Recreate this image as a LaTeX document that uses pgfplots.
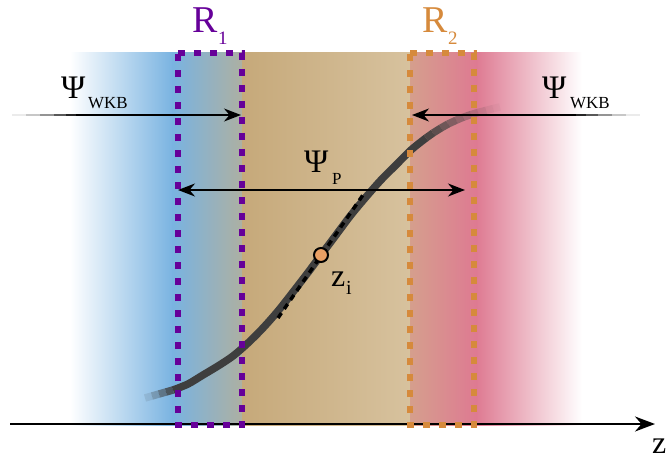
\documentclass[border=0pt]{standalone}
\usepackage{fontspec}
\setmainfont{Liberation Serif}
\usepackage{pgfplots}
\pgfplotsset{compat=1.18}
\usetikzlibrary{arrows.meta}
\definecolor{blueC}{HTML}{79B3E1}
\definecolor{rOneEnd}{HTML}{ADB0A2}
\definecolor{tanL}{HTML}{C6A97A}
\definecolor{tanR}{HTML}{D7C29E}
\definecolor{rTwoL}{HTML}{D59F8D}
\definecolor{pinkC}{HTML}{DE7A92}
\definecolor{purpleC}{HTML}{660099}
\definecolor{orangeC}{HTML}{D68A3C}
\definecolor{circC}{HTML}{E9A064}
\definecolor{curveC}{HTML}{3E3E3E}
\begin{document}
\begin{tikzpicture}
\begin{axis}[width=667bp,height=459bp,scale only axis,
  xmin=0,xmax=667,ymin=0,ymax=459,y dir=reverse,
  axis lines=none,clip=false]
\addplot[draw=none] coordinates {(0,0) (667,459)};
% background bands
\addplot[draw=none, left color=white, right color=blueC] coordinates {(70,53)(173,53)(173,425)(70,425)};
\addplot[draw=none, left color=blueC, right color=rOneEnd] coordinates {(172,53)(242.5,53)(242.5,425)(172,425)};
\addplot[draw=none, left color=tanL, right color=tanR] coordinates {(242,53)(410.5,53)(410.5,425)(242,425)};
\addplot[draw=none, left color=rTwoL, right color=pinkC] coordinates {(410,53)(476.5,53)(476.5,425)(410,425)};
\addplot[draw=none, left color=pinkC, right color=white] coordinates {(476,53)(582,53)(582,425)(476,425)};
% z axis
\addplot[black, line width=2bp, -{Stealth[length=20bp,width=15bp]}] coordinates {(10,424)(655,424)};
% curve: faded left end
\addplot[curveC, opacity=0.12, line width=7.5bp] coordinates {(145,398)(152,396)};
\addplot[curveC, opacity=0.3, line width=7.5bp] coordinates {(152,396)(159,394)};
\addplot[curveC, opacity=0.55, line width=7.5bp] coordinates {(159,394)(166,392)};
\addplot[curveC, opacity=0.8, line width=7.5bp] coordinates {(166,392)(173,390)};
% main curve
\addplot[curveC, line width=7.5bp, smooth] coordinates {(173,390)(188,384)(203,375)(218,366)(233,356)(248,343)(263,328)(278,311)(293,292)(308,272.5)(321,255)(336,235)(351,215)(366,197)(381,180)(396,165)(411,150)(426,138)};
% faded right end
\addplot[curveC, opacity=0.9, line width=7.5bp] coordinates {(426,138)(433,133)};
\addplot[curveC, opacity=0.8, line width=7.5bp] coordinates {(433,133)(441,128)};
\addplot[curveC, opacity=0.68, line width=7.5bp] coordinates {(441,128)(448,124)};
\addplot[curveC, opacity=0.56, line width=7.5bp] coordinates {(448,124)(456,120.3)};
\addplot[curveC, opacity=0.45, line width=7.5bp] coordinates {(456,120.3)(463,117.3)};
\addplot[curveC, opacity=0.34, line width=7.5bp] coordinates {(463,117.3)(471,114.6)};
\addplot[curveC, opacity=0.24, line width=7.5bp] coordinates {(471,114.6)(478,112.5)};
\addplot[curveC, opacity=0.15, line width=7.5bp] coordinates {(478,112.5)(486,110.4)};
\addplot[curveC, opacity=0.08, line width=7.5bp] coordinates {(486,110.4)(493,108.6)};
\addplot[curveC, opacity=0.04, line width=7.5bp] coordinates {(493,108.6)(500,107)};
% tangent
\addplot[black, line width=3.5bp, dash pattern=on 6bp off 5bp] coordinates {(278,318)(365,192)};
% dashed rectangles
\addplot[draw=purpleC, line width=6bp, dash pattern=on 7bp off 9bp] coordinates {(178,53)(242,53)(242,425)(178,425)(178,53)};
\addplot[draw=orangeC, line width=6bp, dash pattern=on 7bp off 9bp] coordinates {(410,53)(474,53)(474,425)(410,425)(410,53)};
% Psi_P arrow
\addplot[black, line width=1.5bp, {Stealth[length=17bp,width=13bp]}-{Stealth[length=17bp,width=13bp]}] coordinates {(178,190)(465,190)};
% Psi_WKB left arrow
\addplot[black!8, line width=1.5bp] coordinates {(12,115)(26,115)};
\addplot[black!22, line width=1.5bp] coordinates {(26,115)(40,115)};
\addplot[black!42, line width=1.5bp] coordinates {(40,115)(54,115)};
\addplot[black!65, line width=1.5bp] coordinates {(54,115)(66,115)};
\addplot[black!85, line width=1.5bp] coordinates {(66,115)(76,115)};
\addplot[black, line width=1.5bp, -{Stealth[length=17bp,width=13bp]}] coordinates {(76,115)(241,115)};
% Psi_WKB right arrow
\addplot[black!8, line width=1.5bp] coordinates {(640,115)(626,115)};
\addplot[black!22, line width=1.5bp] coordinates {(626,115)(612,115)};
\addplot[black!42, line width=1.5bp] coordinates {(612,115)(598,115)};
\addplot[black!65, line width=1.5bp] coordinates {(598,115)(586,115)};
\addplot[black!85, line width=1.5bp] coordinates {(586,115)(576,115)};
\addplot[black, line width=1.5bp, -{Stealth[length=17bp,width=13bp]}] coordinates {(576,115)(412,115)};
% point z_i
\addplot[only marks, mark=*, mark size=7bp, mark options={fill=circC, draw=black, line width=2bp}] coordinates {(321,255)};
% labels
\node[anchor=base west, inner sep=0] at (axis cs:192,33) {\color{purpleC}\fontsize{38}{38}\selectfont R};
\node[anchor=base west, inner sep=0] at (axis cs:218,45) {\color{purpleC}\fontsize{19}{19}\selectfont 1};
\node[anchor=base west, inner sep=0] at (axis cs:422,33) {\color{orangeC}\fontsize{38}{38}\selectfont R};
\node[anchor=base west, inner sep=0] at (axis cs:448,45) {\color{orangeC}\fontsize{19}{19}\selectfont 2};
\node[anchor=base west, inner sep=0] at (axis cs:61,98) {\fontsize{33}{33}\selectfont Ψ};
\node[anchor=base west, inner sep=0] at (axis cs:88,108) {\fontsize{17}{17}\selectfont WKB};
\node[anchor=base west, inner sep=0] at (axis cs:542,98) {\fontsize{33}{33}\selectfont Ψ};
\node[anchor=base west, inner sep=0] at (axis cs:570,108) {\fontsize{17}{17}\selectfont WKB};
\node[anchor=base west, inner sep=0] at (axis cs:304,172) {\fontsize{33}{33}\selectfont Ψ};
\node[anchor=base west, inner sep=0] at (axis cs:332,184) {\fontsize{17}{17}\selectfont P};
\node[anchor=base west, inner sep=0] at (axis cs:331,286) {\fontsize{32}{32}\selectfont z};
\node[anchor=base west, inner sep=0] at (axis cs:346,294) {\fontsize{20}{20}\selectfont i};
\node[anchor=base west, inner sep=0] at (axis cs:652,453) {\fontsize{32}{32}\selectfont z};
\end{axis}
\end{tikzpicture}
\end{document}
